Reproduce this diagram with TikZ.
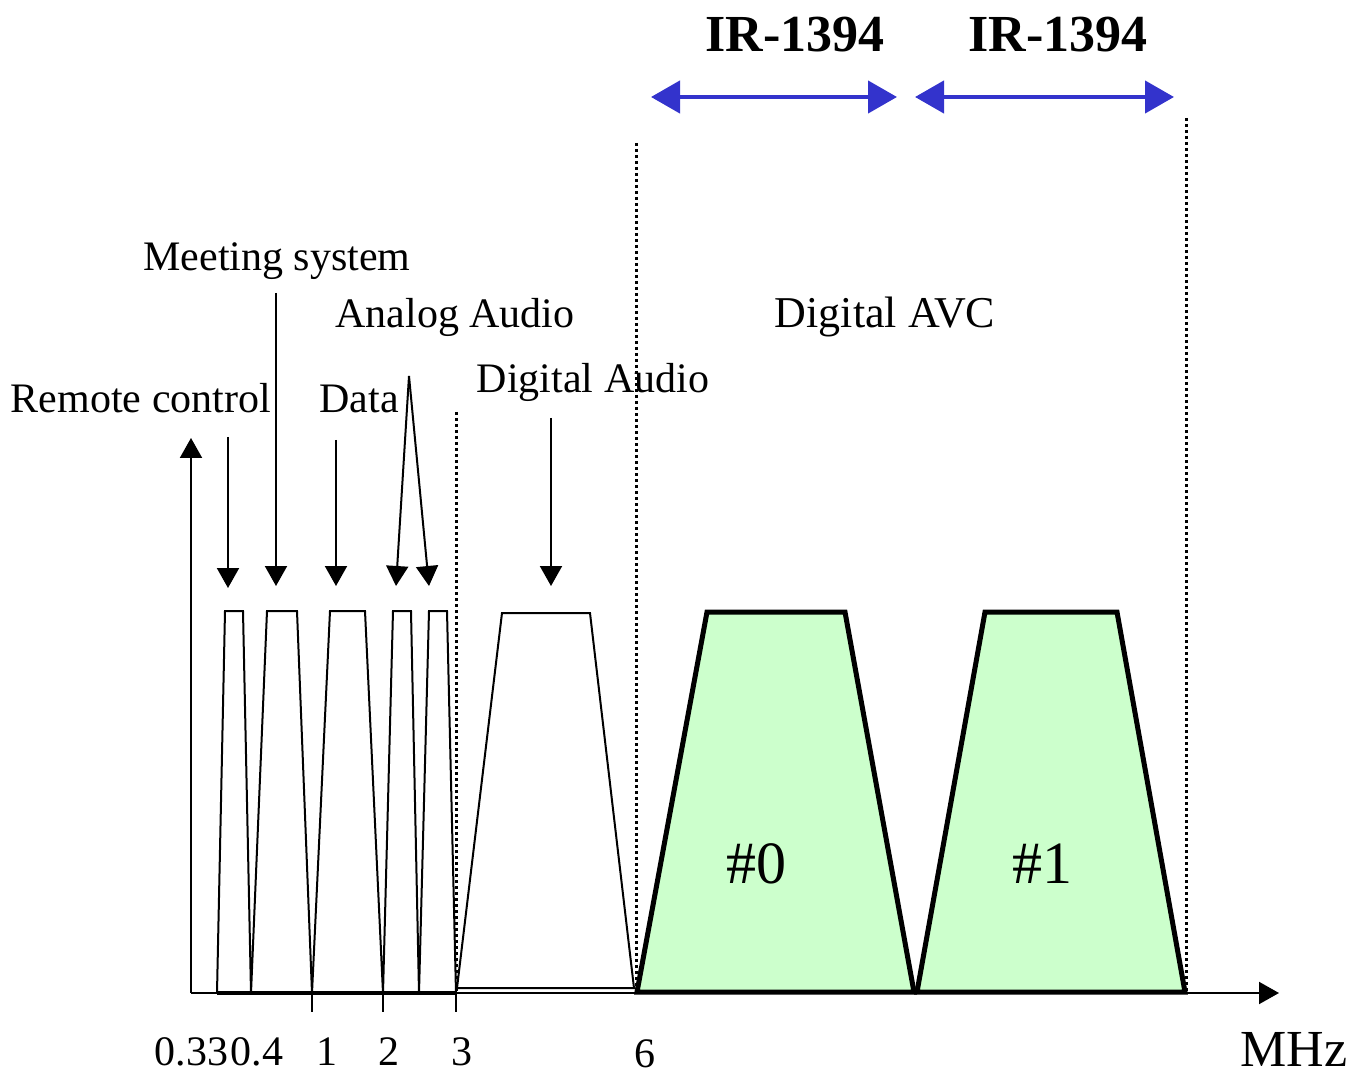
\documentclass[tikz,border=0pt]{standalone}
\usepackage{fontspec}
\setmainfont{Liberation Serif}
\usetikzlibrary{arrows.meta,positioning}
\definecolor{avcgreen}{HTML}{CCFFCC}
\definecolor{irblue}{HTML}{3333CC}

\begin{document}
\begin{tikzpicture}[x=0.5pt, y=-0.5pt, every node/.style={inner sep=0pt, font=\fontsize{21}{25}\selectfont}]
\tikzset{
  band/.style={draw=black, line width=1pt, line join=miter},
  avcband/.style={draw=black, fill=avcgreen, line width=2.5pt, line join=miter},
  pointer/.style={-{Triangle[length=10pt, width=11pt]}, line width=1pt},
  span/.style={{Triangle[length=14.5pt, width=16pt]}-{Triangle[length=14.5pt, width=16pt]}, draw=irblue, line width=2.2pt},
  guide/.style={line width=1.5pt, dash pattern=on 1.5pt off 1.5pt},
  tickmark/.style={line width=1pt},
  bandlabel/.style={anchor=base},
  irlabel/.style={anchor=base, font=\fontsize{26}{30}\selectfont\bfseries},
  chlabel/.style={anchor=base, font=\fontsize{30}{34}\selectfont}
}
\useasboundingbox (0,0) rectangle (1367,1075);

\draw[guide] (456,412) -- (456,993);
\draw[guide] (636,143) -- (636,993);
\draw[guide] (1186,118) -- (1186,993);

\coordinate (origin) at (191,993);
\coordinate (yend) at (191,438);
\coordinate (xend) at (1279,993);
\draw[pointer] (origin) -- (yend);
\draw[pointer] (origin) -- (xend);

\draw[line width=1.75pt] (217,993) -- (456,993);
\draw[band] (217,993) -- (225,611) -- (243,611) -- (251,993) -- (267,611) -- (297,611) -- (312,993) -- (330,611) -- (365,611) -- (383,993) -- (393,611) -- (411,611) -- (419,993) -- (429,611) -- (447,611) -- (456,993);
\draw[band] (457,988) -- (502,613) -- (590,613) -- (634,988) -- cycle;
\draw[avcband] (637,992) -- (707,612) -- (845,612) -- (914,992) -- cycle;
\draw[avcband] (917,992) -- (985,612) -- (1117,612) -- (1185,992) -- cycle;

\foreach \x in {312,383,456}
  \draw[tickmark] (\x,993) -- (\x,1012);

\node[bandlabel] (f033) at (191.5,1065) {0.33};
\node[bandlabel] (f04) at (257,1065) {0.4};
\node[bandlabel] (f1) at (327,1065) {1};
\node[bandlabel] (f2) at (389,1065) {2};
\node[bandlabel] (f3) at (462,1065) {3};
\node[bandlabel] (f6) at (645,1067) {6};
\node[bandlabel, font=\fontsize{26}{30}\selectfont] (mhz) at (1294,1066) {MHz};

\node[bandlabel] (meeting) at (277,271) {Meeting system};
\node[bandlabel] (analog) at (455,328) {Analog Audio};
\node[bandlabel] (remote) at (141,413) {Remote control};
\node[bandlabel] (data) at (359,413) {Data};
\node[bandlabel] (digaudio) at (593,393) {Digital Audio};
\node[bandlabel, font=\fontsize{22}{26}\selectfont] (digavc) at (885,328) {Digital AVC};

\coordinate (remotefrom) at (228,437);
\coordinate (remoteto) at (228,588);
\coordinate (meetingfrom) at (276,293);
\coordinate (meetingto) at (276,586);
\coordinate (datafrom) at (336,440);
\coordinate (datato) at (336,586);
\coordinate (analogfrom) at (409,376);
\coordinate (analogtoa) at (396,586);
\coordinate (analogtob) at (429,586);
\coordinate (digaudiofrom) at (551,418);
\coordinate (digaudioto) at (551,586);
\draw[pointer] (remotefrom) -- (remoteto);
\draw[pointer] (meetingfrom) -- (meetingto);
\draw[pointer] (datafrom) -- (datato);
\draw[pointer] (analogfrom) -- (analogtoa);
\draw[pointer] (analogfrom) -- (analogtob);
\draw[pointer] (digaudiofrom) -- (digaudioto);

\node[irlabel] (ir0) at (795,52) {IR-1394};
\node[irlabel] (ir1) at (1058,52) {IR-1394};
\coordinate (ir0left) at (651,97);
\coordinate (ir0right) at (897,97);
\coordinate (ir1left) at (915,97);
\coordinate (ir1right) at (1174,97);
\draw[span] (ir0left) -- (ir0right);
\draw[span] (ir1left) -- (ir1right);

\node[chlabel] (ch0) at (756,883) {\#0};
\node[chlabel] (ch1) at (1042,883) {\#1};
\end{tikzpicture}
\end{document}
